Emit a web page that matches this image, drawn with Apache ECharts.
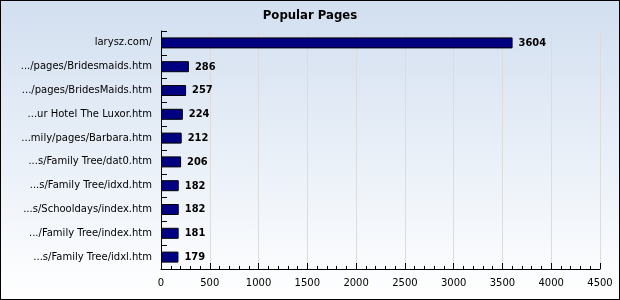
<!DOCTYPE html>
<html><head><meta charset="utf-8">
<script src="https://cdn.jsdelivr.net/npm/echarts@6/dist/echarts.min.js"></script>
<style>html,body{margin:0;padding:0;}#c{width:620px;height:300px;box-sizing:border-box;border:1px solid #000;background:linear-gradient(#d2dff0,#ffffff);}</style>
</head><body><div id="c"></div>
<script>
var categories = ["larysz.com/", ".../pages/Bridesmaids.htm", ".../pages/BridesMaids.htm", "...ur Hotel The Luxor.htm", "...mily/pages/Barbara.htm", "...s/Family Tree/dat0.htm", "...s/Family Tree/idxd.htm", "...s/Schooldays/index.htm", ".../Family Tree/index.htm", "...s/Family Tree/idxl.htm"];
var hits = [3604, 286, 257, 224, 212, 206, 182, 182, 181, 179];
var title = "Popular Pages";

var chart = echarts.init(document.getElementById('c'), null, {renderer: 'canvas'});
chart.setOption({
  animation: false,
  title: {text: title, left: 'center', top: 3, textStyle: {fontFamily: 'DejaVu Sans Condensed', fontWeight: 'bold', fontSize: 13, color: '#000'}},
  grid: {left: 160, right: 19, top: 30, bottom: 30, containLabel: false},
  xAxis: {
    type: 'value', min: 0, max: 4500, interval: 500,
    axisLine: {show: true, lineStyle: {color: '#000'}},
    axisTick: {show: true, inside: true, length: 6, lineStyle: {color: '#000'}},
    minorTick: {show: true, splitNumber: 5, length: 3, lineStyle: {color: '#000'}},
    splitLine: {show: true, lineStyle: {color: '#dcdcdc'}},
    axisLabel: {color: '#000', fontFamily: 'DejaVu Sans', fontSize: 10, margin: 9, formatter: function (v) { return String(v); }}
  },
  yAxis: {
    type: 'category', inverse: true, data: categories,
    axisLine: {show: true, lineStyle: {color: '#000'}},
    axisTick: {show: true, inside: true, length: 6, lineStyle: {color: '#000'}},
    axisLabel: {color: '#000', fontFamily: 'DejaVu Sans', fontSize: 10, margin: 9}
  },
  series: [{
    type: 'bar', data: hits, barWidth: 11,
    itemStyle: {color: '#000080', borderColor: '#000', borderWidth: 1},
    label: {show: true, position: 'right', distance: 6, color: '#000', fontFamily: 'DejaVu Sans Condensed', fontWeight: 'bold', fontSize: 11}
  }]
});
</script></body></html>
